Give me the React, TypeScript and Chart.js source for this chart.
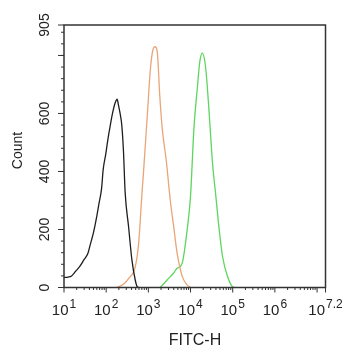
import React, { useEffect, useRef } from "react";
import { Chart, registerables } from "chart.js";

Chart.register(...registerables);

// X axis: FITC-H, log scale from 10^1 to 10^7.2 (values stored as decade exponents)
const xMinExp = 1;
const xMaxExp = 7.2;
const xLabelExps = [1, 2, 3, 4, 5, 6, 7.2];
const xLabelSup = ["1", "2", "3", "4", "5", "6", "7.2"];

// Y axis: Count
const yMax = 905;
const yLabelValues = [0, 200, 400, 600, 905];
const yMajorTicks = [0, 200, 400, 600, 800, 905];
const yMinorStep = 40;

// Black histogram (control)
const blackExp = [1.0, 1.1, 1.18, 1.27, 1.37, 1.47, 1.57, 1.61, 1.7, 1.77, 1.83, 1.89, 1.93, 1.99, 2.04, 2.09, 2.15, 2.21, 2.26, 2.29, 2.33, 2.37, 2.41, 2.45, 2.53, 2.61, 2.69, 2.74, 2.78];
const blackCount = [35, 36, 40, 55, 72, 95, 119, 141, 190, 240, 290, 340, 408, 460, 510, 553, 600, 635, 649, 630, 600, 560, 470, 327, 211, 95, 25, 2, 0];

// Orange histogram
const orangeExp = [2.25, 2.4, 2.53, 2.69, 2.77, 2.85, 2.89, 2.98, 3.05, 3.12, 3.16, 3.21, 3.27, 3.33, 3.43, 3.52, 3.6, 3.68, 3.8, 3.9, 4.0];
const orangeCount = [0, 10, 31, 72, 153, 327, 408, 605, 756, 825, 830, 814, 663, 547, 431, 300, 211, 120, 40, 12, 0];

// Green histogram
const greenExp = [3.28, 3.44, 3.6, 3.68, 3.8, 3.92, 4.0, 4.08, 4.16, 4.22, 4.28, 4.36, 4.44, 4.52, 4.6, 4.68, 4.76, 4.88, 5.0, 5.05];
const greenCount = [0, 25, 50, 66, 83, 199, 315, 547, 686, 779, 808, 756, 605, 431, 315, 199, 106, 37, 2, 0];

const toPoints = (exps: number[], counts: number[]) =>
  exps.map((e, i) => ({ x: Math.pow(10, e), y: counts[i] }));

const FONT = "'Liberation Sans', Arial, sans-serif";
const AXIS_COLOR = "#333333";

const axesPlugin = {
  id: "flowAxes",
  afterDraw(chart: any) {
    const ctx = chart.ctx as CanvasRenderingContext2D;
    const xs = chart.scales.x;
    const ys = chart.scales.y;
    const { left, right, top, bottom } = chart.chartArea;
    ctx.save();
    ctx.strokeStyle = AXIS_COLOR;
    ctx.lineWidth = 1.5;
    ctx.strokeRect(left, top, right - left, bottom - top);

    // x ticks
    ctx.lineWidth = 1;
    ctx.beginPath();
    for (let d = xMinExp; d <= Math.floor(xMaxExp); d++) {
      const px = xs.getPixelForValue(Math.pow(10, d));
      ctx.moveTo(px, bottom);
      ctx.lineTo(px, bottom + 5);
      for (let k = 2; k <= 9; k++) {
        const v = k * Math.pow(10, d);
        if (Math.log10(v) > xMaxExp) break;
        const mx = xs.getPixelForValue(v);
        ctx.moveTo(mx, bottom);
        ctx.lineTo(mx, bottom + 2.5);
      }
    }
    const endX = xs.getPixelForValue(Math.pow(10, xMaxExp));
    ctx.moveTo(endX, bottom);
    ctx.lineTo(endX, bottom + 5);

    // y ticks
    for (let v = 0; v <= yMax; v += yMinorStep) {
      const py = ys.getPixelForValue(v);
      ctx.moveTo(left, py);
      ctx.lineTo(left - 3, py);
    }
    yMajorTicks.forEach((v) => {
      const py = ys.getPixelForValue(v);
      ctx.moveTo(left, py);
      ctx.lineTo(left - 6, py);
    });
    ctx.stroke();

    ctx.fillStyle = "#222222";
    // x labels 10^n
    const baseFont = `15px ${FONT}`;
    const supFont = `12px ${FONT}`;
    xLabelExps.forEach((e, i) => {
      const px = xs.getPixelForValue(Math.pow(10, e));
      ctx.font = baseFont;
      const wb = ctx.measureText("10").width;
      ctx.font = supFont;
      const ws = ctx.measureText(xLabelSup[i]).width;
      const start = px - (wb + ws + 1) / 2;
      ctx.textAlign = "left";
      ctx.textBaseline = "alphabetic";
      ctx.font = baseFont;
      ctx.fillText("10", start, 315);
      ctx.font = supFont;
      ctx.fillText(xLabelSup[i], start + wb + 1, 308);
    });

    // y labels (rotated)
    ctx.font = `14px ${FONT}`;
    yLabelValues.forEach((v) => {
      const py = ys.getPixelForValue(v);
      ctx.save();
      ctx.translate(48.5, py);
      ctx.rotate(-Math.PI / 2);
      ctx.textAlign = "center";
      ctx.textBaseline = "alphabetic";
      ctx.fillText(String(v), 0, 0);
      ctx.restore();
    });

    // axis titles
    ctx.font = `16px ${FONT}`;
    ctx.textAlign = "center";
    ctx.textBaseline = "alphabetic";
    ctx.fillText("FITC-H", 195, 345);

    ctx.save();
    ctx.translate(22, 150.5);
    ctx.rotate(-Math.PI / 2);
    ctx.font = `14px ${FONT}`;
    ctx.fillText("Count", 0, 0);
    ctx.restore();

    ctx.restore();
  },
};

export default function App() {
  const canvasRef = useRef<HTMLCanvasElement | null>(null);

  useEffect(() => {
    if (!canvasRef.current) return;
    const common = {
      fill: false,
      pointRadius: 0,
      borderWidth: 1.3,
      tension: 0.25,
      cubicInterpolationMode: "monotone" as const,
    };
    const chart = new Chart(canvasRef.current, {
      type: "line",
      data: {
        datasets: [
          { ...common, label: "control", data: toPoints(blackExp, blackCount), borderColor: "#1e1e1e" },
          { ...common, label: "orange", data: toPoints(orangeExp, orangeCount), borderColor: "#e8a577" },
          { ...common, label: "green", data: toPoints(greenExp, greenCount), borderColor: "#5cd65c" },
        ],
      },
      options: {
        responsive: false,
        animation: false,
        events: [],
        layout: { padding: { left: 64, top: 25, right: 16.5, bottom: 62.5 } },
        plugins: { legend: { display: false }, tooltip: { enabled: false }, title: { display: false } },
        scales: {
          x: {
            type: "logarithmic",
            display: false,
            min: Math.pow(10, xMinExp),
            max: Math.pow(10, xMaxExp),
          },
          y: {
            type: "linear",
            display: false,
            min: 0,
            max: yMax,
          },
        },
      },
      plugins: [axesPlugin],
    });
    return () => chart.destroy();
  }, []);

  return (
    <div style={{ position: "absolute", left: 0, top: 0, width: 342, height: 350, background: "#ffffff" }}>
      <canvas ref={canvasRef} width={342} height={350} style={{ width: 342, height: 350, display: "block" }} />
    </div>
  );
}
